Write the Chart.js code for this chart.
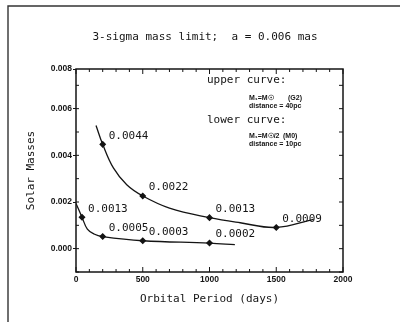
<!DOCTYPE html>
<html>
<head>
<meta charset="utf-8">
<script src="https://cdn.jsdelivr.net/npm/chart.js@4"></script>
<style>
  html, body { margin: 0; padding: 0; background: #fff; }
  canvas { display: block; }
</style>
</head>
<body>
<canvas id="myChart" width="400" height="322"></canvas>
<script>
'use strict';

// upper curve: M1 = Msun (G2), 40 pc
let upperDays = [150, 200, 280, 380, 500, 700, 1000, 1230, 1500, 1780];
let upperMass = [0.00528, 0.00447, 0.00346, 0.00274, 0.00226, 0.00174, 0.00133, 0.00111, 0.00091, 0.00126];
let upperText = [null, '0.0044', null, null, '0.0022', null, '0.0013', null, '0.0009', null];

// lower curve: M1 = Msun/2 (M0), 10 pc
let lowerDays = [0, 45, 85, 135, 200, 500, 1000, 1190];
let lowerMass = [0.00194, 0.00135, 0.00084, 0.00063, 0.00052, 0.00034, 0.00024, 0.00017];
let lowerText = [null, '0.0013', null, null, '0.0005', '0.0003', '0.0002', null];

let xTicks = [0, 500, 1000, 1500, 2000];
let yTicks = [0, 0.002, 0.004, 0.006, 0.0077];

let titleText = '3-sigma mass limit;  a = 0.006 mas';
let noteLines = [
    ['upper curve:', 'big', 207, 80],
    ['M\u2081=M\u2609', 'small', 249, 98],
    ['(G2)', 'small', 288, 98],
    ['distance = 40pc', 'small', 249, 106],
    ['lower curve:', 'big', 207, 120],
    ['M\u2081=M\u2609/2', 'small', 249, 136],
    ['(M0)', 'small', 283, 136],
    ['distance = 10pc', 'small', 249, 144]
];

const ink = '#141414';
const mono = '"DejaVu Sans Mono", monospace';
const small = '"Liberation Sans", sans-serif';

function toPoints(xs, ys) {
    let pts = [];
    for (let i = 0; i < xs.length; i++) {
        pts.push({ x: xs[i], y: ys[i] });
    }
    return pts;
}

function radii(texts) {
    return texts.map(t => t ? 2.6 : 0);
}

const decor = {
    id: 'decor',
    beforeDraw(chart) {
        let ctx = chart.ctx;
        ctx.save();
        ctx.fillStyle = '#fff';
        ctx.fillRect(0, 0, chart.width, chart.height);
        // outer page frame
        ctx.strokeStyle = '#333';
        ctx.lineWidth = 1.4;
        ctx.beginPath();
        ctx.moveTo(8, chart.height + 2);
        ctx.lineTo(8, 6);
        ctx.lineTo(chart.width + 2, 6);
        ctx.stroke();
        ctx.restore();
    },
    afterDraw(chart) {
        let ctx = chart.ctx;
        let a = chart.chartArea;
        let x = chart.scales.x;
        let y = chart.scales.y;
        ctx.save();
        ctx.strokeStyle = ink;
        ctx.lineWidth = 1.5;
        ctx.strokeRect(a.left, a.top, a.right - a.left, a.bottom - a.top);

        ctx.lineWidth = 1;
        ctx.beginPath();
        for (let d = 0; d <= 2000; d += 100) {
            let px = x.getPixelForValue(d);
            let len = d % 500 === 0 ? 5 : 3;
            ctx.moveTo(px, a.bottom);
            ctx.lineTo(px, a.bottom - len);
            ctx.moveTo(px, a.top);
            ctx.lineTo(px, a.top + len);
        }
        for (let k = -1; k <= 7; k++) {
            let py = y.getPixelForValue(k / 1000);
            ctx.moveTo(a.left, py);
            ctx.lineTo(a.left + 3, py);
            ctx.moveTo(a.right, py);
            ctx.lineTo(a.right - 4, py);
        }
        ctx.stroke();

        // title
        ctx.fillStyle = ink;
        ctx.textAlign = 'center';
        ctx.textBaseline = 'middle';
        ctx.font = '11px ' + mono;
        ctx.fillText(titleText, 205, 37);

        // curve notes
        ctx.textAlign = 'left';
        noteLines.forEach(n => {
            ctx.font = n[1] === 'big' ? '11px ' + mono : 'bold 7px ' + small;
            ctx.fillText(n[0], n[2], n[3]);
        });

        // value labels beside the marked points
        ctx.font = '11px ' + mono;
        let texts = [upperText, lowerText];
        chart.data.datasets.forEach((ds, i) => {
            let meta = chart.getDatasetMeta(i);
            meta.data.forEach((el, j) => {
                let t = texts[i][j];
                if (t) {
                    ctx.fillText(t, el.x + 6, el.y - 8.5);
                }
            });
        });
        ctx.restore();
    }
};

let ctx = document.getElementById('myChart').getContext('2d');
new Chart(ctx, {
    type: 'line',
    data: {
        datasets: [{
            label: 'upper curve',
            data: toPoints(upperDays, upperMass),
            borderColor: ink,
            backgroundColor: ink,
            borderWidth: 1.3,
            pointStyle: 'rectRot',
            pointRadius: radii(upperText),
            tension: 0.4,
            fill: false
        },
        {
            label: 'lower curve',
            data: toPoints(lowerDays, lowerMass),
            borderColor: ink,
            backgroundColor: ink,
            borderWidth: 1.3,
            pointStyle: 'rectRot',
            pointRadius: radii(lowerText),
            tension: 0.4,
            fill: false
        }]
    },
    options: {
        responsive: false,
        animation: false,
        devicePixelRatio: 1,
        layout: {
            padding: { top: 69, right: 57, left: 0, bottom: 0 }
        },
        plugins: {
            legend: { display: false },
            tooltip: { enabled: false }
        },
        scales: {
            x: {
                type: 'linear',
                min: 0,
                max: 2000,
                afterFit: function (s) { s.height = 50; },
                afterBuildTicks: function (s) { s.ticks = xTicks.map(v => ({ value: v })); },
                grid: { display: false, drawTicks: false },
                border: { display: false },
                ticks: {
                    padding: 3,
                    color: ink,
                    maxRotation: 0,
                    font: { family: small, size: 8.5, weight: 'bold' },
                    callback: function (v) { return String(v); }
                },
                title: {
                    display: true,
                    text: 'Orbital Period (days)',
                    color: ink,
                    font: { family: mono, size: 11 },
                    padding: { top: 0, bottom: 16 }
                }
            },
            y: {
                type: 'linear',
                min: -0.001,
                max: 0.0077,
                afterFit: function (s) { s.width = 76; },
                afterBuildTicks: function (s) { s.ticks = yTicks.map(v => ({ value: v })); },
                grid: { display: true, drawOnChartArea: false, drawTicks: true, tickLength: 3, color: ink },
                border: { display: false },
                ticks: {
                    padding: 1,
                    color: ink,
                    font: { family: small, size: 8.5, weight: 'bold' },
                    callback: function (v) { return v.toFixed(3); }
                },
                title: {
                    display: true,
                    text: 'Solar Masses',
                    color: ink,
                    font: { family: mono, size: 11 },
                    padding: { top: 25, bottom: 0 }
                }
            }
        }
    },
    plugins: [decor]
});
</script>
</body>
</html>
